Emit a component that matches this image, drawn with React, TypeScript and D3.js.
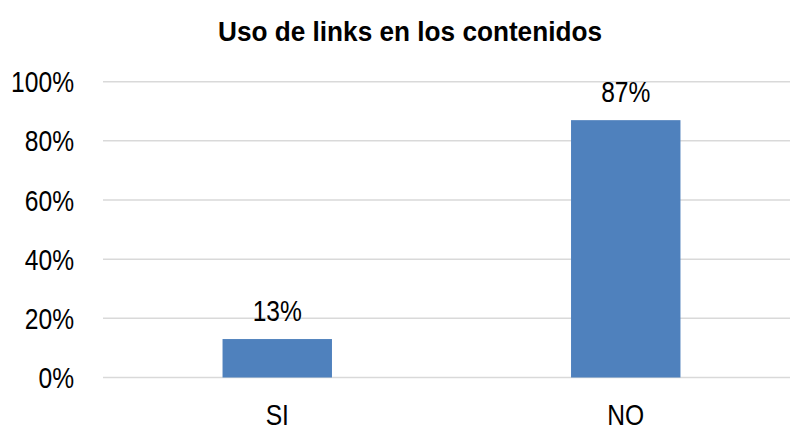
import React from 'react';
import * as d3 from 'd3';

const title = 'Uso de links en los contenidos';
const categories = ['SI', 'NO'];
const values = [13, 87];
const yTicks = [0, 20, 40, 60, 80, 100];

const W = 790;
const H = 428;
// no Arial Narrow here, so squeeze Liberation Sans horizontally
const FONT = '"Liberation Sans", Arial, sans-serif';
const NARROW = 0.82;

function Label({ x, y, anchor = 'middle', size = 30, bold = false, sx = NARROW, children }: any) {
  return (
    <text
      transform={`translate(${x},${y}) scale(${sx},1)`}
      textAnchor={anchor}
      fontFamily={FONT}
      fontWeight={bold ? 'bold' : 'normal'}
      fontSize={size}
      fill="#000"
    >
      {children}
    </text>
  );
}

export default function App() {
  const x = d3.scaleBand<string>()
    .domain(categories)
    .range([103, 800])
    .paddingInner(0.686)
    .paddingOuter(0.343);

  const y = d3.scaleLinear()
    .domain([0, 100])
    .range([377.5, 81.7]);

  return (
    <svg width={W} height={H} style={{ position: 'absolute', left: 0, top: 0, background: '#fff' }}>
      <Label x={410} y={41} size={28} bold sx={0.935}>{title}</Label>

      {yTicks.map(t => (
        <g key={t}>
          <line x1={103} x2={W} y1={y(t)} y2={y(t)} stroke="#d9d9d9" strokeWidth={1.5} />
          <Label x={74} y={y(t) + 10.5} anchor="end">{t}%</Label>
        </g>
      ))}

      {categories.map((c, i) => {
        const cx = x(c)! + x.bandwidth() / 2;
        return (
          <g key={c}>
            <rect
              x={x(c)}
              y={y(values[i])}
              width={x.bandwidth()}
              height={y(0) - y(values[i])}
              fill="#4f81bd"
            />
            <Label x={cx} y={y(values[i]) - 18}>{values[i]}%</Label>
            <Label x={cx} y={424.5}>{c}</Label>
          </g>
        );
      })}
    </svg>
  );
}
